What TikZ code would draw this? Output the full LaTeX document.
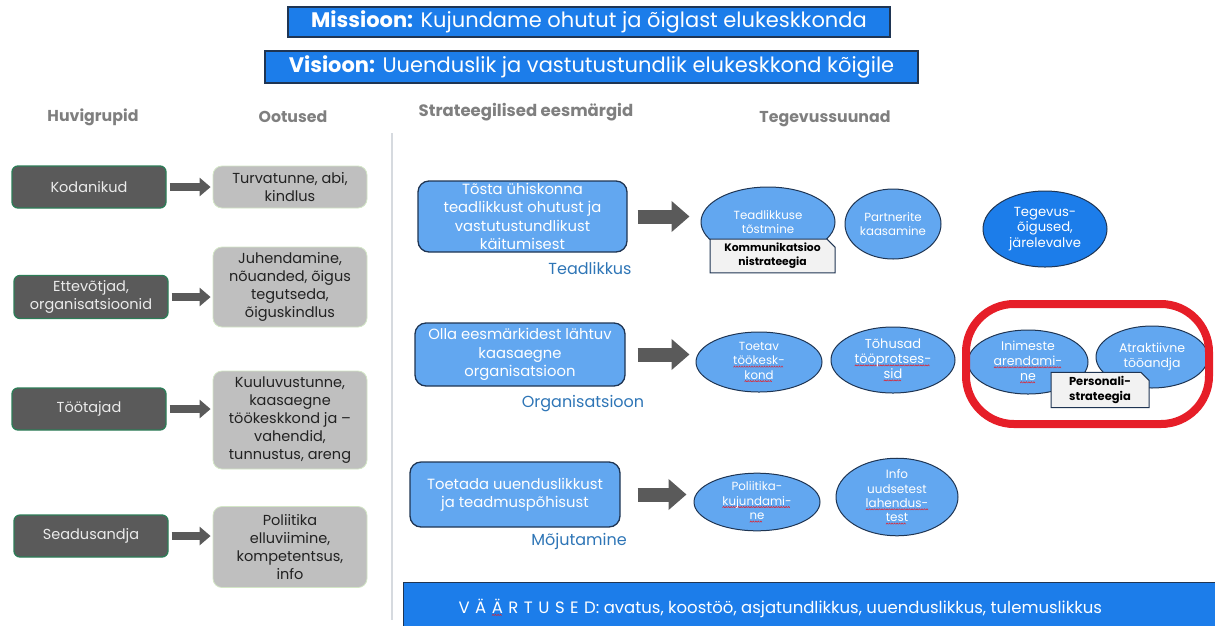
\documentclass[tikz,border=0pt]{standalone}
\usepackage{fontspec}
\setmainfont{Poppins}
\usetikzlibrary{shapes.geometric,shapes.misc,arrows.meta}
\definecolor{mblue}{HTML}{1C7DEA}
\definecolor{lblue}{HTML}{62A7F0}
\definecolor{navy}{HTML}{1F3553}
\definecolor{dgrey}{HTML}{5A5A5A}
\definecolor{greenb}{HTML}{2C7D57}
\definecolor{lgrey}{HTML}{BFBFBF}
\definecolor{lgreen}{HTML}{D3E6C6}
\definecolor{headgrey}{HTML}{7F7F7F}
\definecolor{labblue}{HTML}{2E75B6}
\definecolor{calgrey}{HTML}{F2F2F2}
\definecolor{sepgrey}{HTML}{D6DADF}
\definecolor{hlred}{HTML}{E61E28}
\definecolor{txtdark}{HTML}{222222}
\newsavebox{\sqbox}
\newsavebox{\sqwave}
\sbox{\sqwave}{\tikz[baseline=0pt,x=1pt,y=1pt]\draw[hlred,line width=0.5pt,line cap=round](0,0)--(1,1.2)--(2,0);}
\newcommand\sq[1]{\sbox{\sqbox}{#1}\rlap{\raisebox{-2.5pt}{\leaders\copy\sqwave\hskip\wd\sqbox}}\usebox{\sqbox}}
\tikzset{
  hbox/.style={rectangle, rounded corners=6pt, draw=greenb, line width=1.3pt, fill=dgrey, text=white!92!black,
    minimum width=154pt, minimum height=42pt, inner sep=0pt, align=center, font=\fontsize{14.5}{17.5}\selectfont},
  obox/.style={rectangle, rounded corners=9pt, draw=lgreen, line width=0.8pt, fill=lgrey, text=txtdark,
    minimum width=154pt, inner sep=0pt, align=center, font=\fontsize{14.5}{18}\selectfont},
  gbox/.style={rectangle, rounded corners=11pt, draw=navy, line width=1.3pt, fill=lblue, text=white,
    inner sep=0pt, align=center, font=\fontsize{14.8}{18.3}\selectfont},
  ell/.style={ellipse, draw=navy, line width=1pt, fill=lblue, text=white, inner sep=0pt, align=center,
    font=\fontsize{11.8}{14.5}\selectfont},
  callout/.style={chamfered rectangle, chamfered rectangle corners=north east, chamfered rectangle xsep=4pt,
    chamfered rectangle ysep=4pt, draw=navy, line width=1pt, fill=calgrey, text=black, inner sep=0pt,
    align=center, font=\bfseries\fontsize{10.8}{14}\selectfont},
  head/.style={text=headgrey, font=\bfseries\fontsize{15.8}{19}\selectfont},
  lab/.style={text=labblue, font=\fontsize{16}{19}\selectfont},
  banner/.style={rectangle, fill=mblue, draw=navy, line width=1.5pt, text=white, inner sep=0pt},
  larr/.style={draw=dgrey, line width=8pt, -{Triangle[length=11pt,width=18pt]}},
  marr/.style={draw=dgrey, line width=14pt, -{Triangle[length=18pt,width=30pt]}},
}
\begin{document}
\begin{tikzpicture}[x=1pt,y=-1pt]
\useasboundingbox (0,0) rectangle (1215,625);
% banners
\node[banner, minimum width=602pt, minimum height=30pt, font=\fontsize{21}{24}\selectfont] (mis) at (589,22)
  {\textbf{Missioon:} Kujundame ohutut ja õiglast elukeskkonda};
\node[banner, minimum width=653pt, minimum height=32pt, font=\fontsize{21}{24}\selectfont] (vis) at (591.5,67)
  {\textbf{Visioon:} Uuenduslik ja vastutustundlik elukeskkond kõigile};
% headers
\node[head] (h1) at (93,117) {Huvigrupid};
\node[head] (h2) at (293,117) {Ootused};
\node[head, font=\bfseries\fontsize{16.5}{19}\selectfont] (h3) at (526,112) {Strateegilised eesmärgid};
\node[head] (h4) at (825,119) {Tegevussuunad};
% separator
\draw[sepgrey, line width=1.5pt] (392,133) -- (392,620);
% stakeholder boxes
\node[hbox] (kod) at (89,187) {Kodanikud};
\node[hbox, minimum height=43pt] (ett) at (91,297) {Ettevõtjad,\\organisatsioonid};
\node[hbox] (too) at (89,409) {Töötajad};
\node[hbox] (sea) at (91,536) {Seadusandja};
% expectation boxes
\node[obox, minimum height=42pt] (turv) at (290,187) {Turvatunne, abi,\\kindlus};
\node[obox, minimum height=80pt] (juh) at (290,287) {Juhendamine,\\nõuanded, õigus\\tegutseda,\\õiguskindlus};
\node[obox, minimum height=98pt] (kuu) at (290,420) {Kuuluvustunne,\\kaasaegne\\töökeskkond ja –\\vahendid,\\tunnustus, areng};
\node[obox, minimum height=81pt] (pol) at (290,547) {Poliitika\\elluviimine,\\kompetentsus,\\info};
% left arrows
\draw[larr] ([xshift=3pt]kod.east) -- ([xshift=-2pt]kod.east -| turv.west);
\draw[larr] ([xshift=3pt]ett.east) -- ([xshift=-2pt]ett.east -| juh.west);
\draw[larr] ([xshift=3pt]too.east) -- ([xshift=-2pt]too.east -| kuu.west);
\draw[larr] ([xshift=3pt]sea.east) -- ([xshift=-2pt]sea.east -| pol.west);
% strategic goals
\node[gbox, minimum width=209pt, minimum height=71pt] (g1) at (522.5,216.5)
  {Tõsta ühiskonna\\teadlikkust ohutust ja\\vastutustundlikust\\käitumisest};
\node[gbox, minimum width=210pt, minimum height=63pt] (g2) at (520,354.5)
  {Olla eesmärkidest lähtuv\\kaasaegne\\organisatsioon};
\node[gbox, minimum width=210pt, minimum height=65pt] (g3) at (515,494.5)
  {Toetada uuenduslikkust\\ja teadmuspõhisust};
\node[lab] (l1) at (590,268) {Teadlikkus};
\node[lab] (l2) at (583,404) {Organisatsioon};
\node[lab] (l3) at (579,541) {Mõjutamine};
% activity ellipses
\node[ell, minimum width=134pt, minimum height=70pt] (e1) at (768,222) {Teadlikkuse\\tõstmine};
\node[ell, minimum width=96pt, minimum height=70pt] (e2) at (893,224) {Partnerite\\kaasamine};
\node[ell, fill=mblue, minimum width=124pt, minimum height=76pt, font=\fontsize{13.2}{15.5}\selectfont] (e3) at (1045,229) {Tegevus-\\õigused,\\järelevalve};
\node[ell, minimum width=126pt, minimum height=60pt] (e4) at (759,362) {Toetav\\\sq{töökesk-}\\\sq{kond}};
\node[ell, minimum width=124pt, minimum height=66pt, font=\fontsize{13}{15}\selectfont] (e5) at (893,360) {Tõhusad\\\sq{tööprotses-}\\\sq{sid}};
\node[ell, minimum width=120pt, minimum height=64pt, font=\fontsize{12.5}{15}\selectfont] (e6) at (1028,362) {Inimeste\\\sq{arendami-}\\\sq{ne}};
\node[ell, minimum width=112pt, minimum height=62pt, font=\fontsize{12.5}{15}\selectfont] (e7) at (1152,357) {Atraktiivne\\tööandja};
\node[ell, minimum width=126pt, minimum height=56pt] (e8) at (757,502) {Poliitika-\\\sq{kujundami-}\\\sq{ne}};
\node[ell, minimum width=122pt, minimum height=68pt, font=\fontsize{12}{14.3}\selectfont] (e9) at (897,497) {Info\\uudsetest\\\sq{lahendus-}\\\sq{test}};
% callouts
\node[callout, minimum width=125pt, minimum height=32pt] (c1) at (772.5,256) {Kommunikatsioo\\nistrateegia};
\node[callout, minimum width=98pt, minimum height=34pt, font=\bfseries\fontsize{11.5}{15}\selectfont] (c2) at (1100,390) {Personali-\\strateegia};
% middle arrows
\draw[marr] ([xshift=10pt]g1.east) -- ([xshift=-11pt]g1.east -| e1.west);
\draw[marr] ([xshift=12pt]g2.east) -- ([xshift=-6pt]g2.east -| e4.west);
\draw[marr] ([xshift=17pt]g3.east) -- ([xshift=-7pt]g3.east -| e8.west);
% highlight
\node[draw=hlred, line width=8pt, rounded corners=48pt, minimum width=243pt, minimum height=120pt, inner sep=0pt] (hl) at (1087.5,364) {};
% values bar
\node[rectangle, fill=mblue, draw=navy, line width=1.2pt, minimum width=820pt, minimum height=48pt, inner sep=0pt, anchor=north west] (val) at (403,582) {};
\node[text=white, anchor=west, font=\fontsize{16.5}{19}\selectfont] (valt) at (455,608)
  {V\,\,Ä\,\,\sq{Ä}\,\,R\,\,T\,\,U\,\,S\,\,E\,\,D: avatus, koostöö, asjatundlikkus, uuenduslikkus, tulemuslikkus};
\end{tikzpicture}
\end{document}
